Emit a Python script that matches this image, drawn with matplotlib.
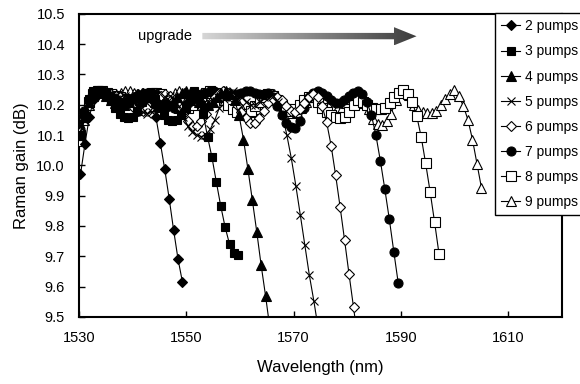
import numpy as np
import matplotlib
matplotlib.use('Agg')
import matplotlib.pyplot as plt
from matplotlib.patches import Polygon
from matplotlib.colors import LinearSegmentedColormap

plt.rcParams['font.family'] = ['Liberation Sans', 'DejaVu Sans']

# measured gain spectra, sampled uniformly from wl_start to wl_stop
labels = ['2 pumps', '3 pumps', '4 pumps', '5 pumps', '6 pumps', '7 pumps', '8 pumps', '9 pumps']
wl_start = [1530.3, 1530.2, 1530.2, 1530.2, 1530.2, 1530.2, 1530.2, 1530.2]
wl_stop = [1549.3, 1559.7, 1565.6, 1574.6, 1582.0, 1589.5, 1597.1, 1605.0]

gain_2 = [9.97, 10.07, 10.16, 10.22, 10.24, 10.245, 10.24, 10.23, 10.22, 10.21,
          10.21, 10.215, 10.225, 10.235, 10.24, 10.235, 10.22, 10.16, 10.074, 9.987,
          9.89, 9.786, 9.69, 9.614]

gain_3 = [10.10, 10.17, 10.22, 10.245, 10.25, 10.245, 10.235, 10.215, 10.19, 10.17,
          10.16, 10.155, 10.16, 10.18, 10.21, 10.235, 10.24, 10.22, 10.19, 10.165,
          10.15, 10.145, 10.15, 10.165, 10.19, 10.225, 10.245, 10.23, 10.17, 10.095,
          10.027, 9.945, 9.866, 9.796, 9.74, 9.711, 9.705]

gain_4 = [10.10, 10.16, 10.21, 10.235, 10.245, 10.24, 10.23, 10.215, 10.205, 10.20,
          10.20, 10.21, 10.225, 10.235, 10.24, 10.235, 10.225, 10.21, 10.20, 10.195,
          10.20, 10.21, 10.225, 10.24, 10.245, 10.24, 10.225, 10.21, 10.20, 10.20,
          10.21, 10.225, 10.24, 10.245, 10.235, 10.215, 10.165, 10.085, 9.988, 9.886,
          9.781, 9.670, 9.569, 9.46]

gain_5 = [10.09, 10.15, 10.20, 10.23, 10.24, 10.235, 10.225, 10.22, 10.22, 10.225,
          10.23, 10.225, 10.21, 10.19, 10.175, 10.17, 10.175, 10.19, 10.21, 10.225,
          10.23, 10.22, 10.195, 10.16, 10.13, 10.11, 10.10, 10.095, 10.10, 10.12,
          10.15, 10.19, 10.22, 10.24, 10.245, 10.24, 10.225, 10.21, 10.20, 10.20,
          10.21, 10.225, 10.235, 10.23, 10.21, 10.17, 10.10, 10.023, 9.933, 9.836,
          9.737, 9.638, 9.553, 9.46]

gain_6 = [10.11, 10.17, 10.21, 10.235, 10.245, 10.245, 10.24, 10.235, 10.23, 10.225,
          10.215, 10.20, 10.19, 10.18, 10.18, 10.19, 10.205, 10.22, 10.23, 10.235,
          10.23, 10.215, 10.195, 10.17, 10.145, 10.13, 10.13, 10.145, 10.17, 10.20,
          10.225, 10.24, 10.245, 10.24, 10.225, 10.20, 10.175, 10.155, 10.14, 10.14,
          10.155, 10.18, 10.205, 10.22, 10.225, 10.215, 10.195, 10.18, 10.175, 10.185,
          10.205, 10.225, 10.235, 10.225, 10.195, 10.142, 10.065, 9.968, 9.863, 9.753,
          9.640, 9.531, 9.42]

gain_7 = [10.12, 10.18, 10.22, 10.24, 10.245, 10.24, 10.23, 10.215, 10.205, 10.20,
          10.20, 10.205, 10.215, 10.225, 10.235, 10.24, 10.24, 10.235, 10.225, 10.21,
          10.20, 10.19, 10.19, 10.195, 10.205, 10.215, 10.225, 10.235, 10.24, 10.245,
          10.245, 10.24, 10.235, 10.23, 10.23, 10.235, 10.24, 10.245, 10.245, 10.24,
          10.235, 10.235, 10.24, 10.225, 10.195, 10.165, 10.14, 10.125, 10.122, 10.145,
          10.19, 10.225, 10.24, 10.245, 10.24, 10.23, 10.215, 10.205, 10.205, 10.215,
          10.23, 10.24, 10.245, 10.235, 10.21, 10.166, 10.10, 10.015, 9.921, 9.822,
          9.715, 9.610]

gain_8 = [10.10, 10.16, 10.21, 10.235, 10.245, 10.245, 10.24, 10.235, 10.23, 10.225,
          10.22, 10.215, 10.215, 10.22, 10.23, 10.235, 10.24, 10.24, 10.235, 10.225,
          10.21, 10.20, 10.19, 10.185, 10.19, 10.20, 10.215, 10.23, 10.24, 10.245,
          10.24, 10.23, 10.215, 10.20, 10.185, 10.175, 10.17, 10.17, 10.18, 10.195,
          10.21, 10.225, 10.235, 10.23, 10.215, 10.20, 10.185, 10.18, 10.185, 10.20,
          10.215, 10.225, 10.225, 10.21, 10.19, 10.175, 10.165, 10.158, 10.155, 10.16,
          10.175, 10.20, 10.215, 10.21, 10.20, 10.19, 10.187, 10.187, 10.19, 10.205,
          10.225, 10.24, 10.247, 10.235, 10.21, 10.164, 10.095, 10.007, 9.913, 9.812,
          9.706]

gain_9 = [10.08, 10.15, 10.20, 10.23, 10.245, 10.245, 10.24, 10.235, 10.235, 10.24,
          10.245, 10.245, 10.24, 10.23, 10.22, 10.21, 10.205, 10.205, 10.21, 10.22,
          10.23, 10.24, 10.245, 10.24, 10.23, 10.215, 10.205, 10.20, 10.205, 10.215,
          10.23, 10.24, 10.245, 10.24, 10.225, 10.205, 10.185, 10.175, 10.175, 10.185,
          10.20, 10.22, 10.235, 10.235, 10.22, 10.20, 10.18, 10.172, 10.175, 10.19,
          10.21, 10.23, 10.24, 10.235, 10.22, 10.20, 10.188, 10.185, 10.19, 10.205,
          10.22, 10.23, 10.222, 10.205, 10.185, 10.152, 10.135, 10.132, 10.145, 10.17,
          10.215, 10.242, 10.248, 10.232, 10.20, 10.183, 10.175, 10.172, 10.173, 10.18,
          10.198, 10.218, 10.236, 10.248, 10.228, 10.195, 10.15, 10.085, 10.005, 9.925]

gains = [gain_2, gain_3, gain_4, gain_5, gain_6, gain_7, gain_8, gain_9]

# marker style per series: (marker, size, filled)
styles = [('D', 5.5, True), ('s', 6, True), ('^', 6.5, True), ('x', 6, False),
          ('D', 5.5, False), ('o', 6.5, True), ('s', 6.5, False), ('^', 6.5, False)]

fig = plt.figure(figsize=(5.8, 3.84), dpi=100)
ax = fig.add_axes([0.136, 0.175, 0.833, 0.789])

for i in range(len(labels)):
    g = gains[i]
    wl = np.linspace(wl_start[i], wl_stop[i], len(g))
    mk, ms, filled = styles[i]
    ax.plot(wl, g, color='black', lw=0.8, marker=mk, ms=ms,
            mfc='black' if filled else 'white', mec='black', mew=0.8,
            label=labels[i], zorder=20 - i)

ax.set_xlim(1530, 1620)
ax.set_ylim(9.5, 10.5)
ax.set_xticks([1530, 1550, 1570, 1590, 1610])
ax.set_yticks(np.arange(9.5, 10.51, 0.1))
ax.set_yticklabels(['9.5', '9.6', '9.7', '9.8', '9.9', '10.0', '10.1', '10.2', '10.3', '10.4', '10.5'])
ax.tick_params(direction='in', length=4, width=1, labelsize=10.5, pad=10)
for s in ax.spines.values():
    s.set_linewidth(1.5)

ax.set_xlabel('Wavelength (nm)', fontsize=12, labelpad=11)
ax.set_ylabel('Raman gain (dB)', fontsize=12, labelpad=5)

# gradient "upgrade" arrow
ax.text(1546.0, 10.427, 'upgrade', fontsize=10.5, ha='center', va='center')
arr_x = [1553.0, 1588.7, 1588.7, 1592.9, 1588.7, 1588.7, 1553.0]
arr_y = [10.416, 10.416, 10.396, 10.426, 10.456, 10.437, 10.437]
poly = Polygon(list(zip(arr_x, arr_y)), closed=True, facecolor='none', edgecolor='none')
ax.add_patch(poly)
cmap = LinearSegmentedColormap.from_list('grey_grad', ['#d6d6d6', '#3c3c3c'])
grad = np.linspace(0, 1, 256).reshape(1, -1)
im = ax.imshow(grad, extent=[1553.0, 1592.9, 10.396, 10.456], cmap=cmap,
               aspect='auto', zorder=30)
im.set_clip_path(poly)
ax.set_xlim(1530, 1620)
ax.set_ylim(9.5, 10.5)

leg = fig.legend(loc='upper left', bbox_to_anchor=(0.853, 0.966), fontsize=10,
                 frameon=True, fancybox=False, edgecolor='black', framealpha=1,
                 borderpad=0.45, labelspacing=0.8, handlelength=1.4,
                 handletextpad=0.35, borderaxespad=0)
leg.get_frame().set_linewidth(1.0)

fig.savefig('out.png', dpi=100)
